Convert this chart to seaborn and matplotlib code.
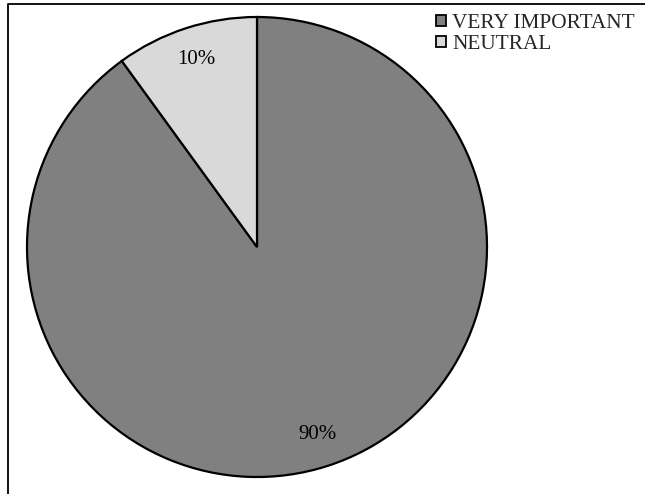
import matplotlib
matplotlib.use('Agg')
import matplotlib.pyplot as plt
from matplotlib.patches import Patch
from matplotlib.lines import Line2D
import seaborn as sns

# 数据
labels = ['VERY IMPORTANT', 'NEUTRAL']
values = [90, 10]
colors = ['#808080', '#d9d9d9']

sns.set_theme(style="white")
plt.rcParams['font.family'] = ['Liberation Serif', 'DejaVu Serif']

fig = plt.figure(figsize=(6.45, 4.94), dpi=100)
W, H = 645, 494
# 饼图区域 (中心 257,247 半径 230)
ax = fig.add_axes([27 / W, (H - 477) / H, 460 / W, 460 / H])
wedges, texts, autotexts = ax.pie(values, colors=colors, startangle=90, counterclock=False,
                                  autopct='%d%%', pctdistance=0.855,
                                  wedgeprops=dict(edgecolor='black', linewidth=1.6, clip_on=False),
                                  textprops=dict(fontsize=15, color='black'))
ax.set_xlim(-1, 1)
ax.set_ylim(-1, 1)
ax.set_aspect('equal')
ax.axis('off')

# 外框
fig.add_artist(Line2D([8 / W, 8 / W, 1.01], [-0.01, 1 - 4 / H, 1 - 4 / H],
                      transform=fig.transFigure, color='black', linewidth=1.3))

handles = [Patch(facecolor=c, edgecolor='black', linewidth=1.3) for c in colors]
fig.legend(handles, labels, loc='upper left', bbox_to_anchor=(436 / W, 1 - 14 / H),
           frameon=False, fontsize=15.3, handlelength=0.45, handleheight=0.45,
           handletextpad=0.3, labelspacing=0.1, borderpad=0, borderaxespad=0)

fig.savefig('out.png', dpi=100)
